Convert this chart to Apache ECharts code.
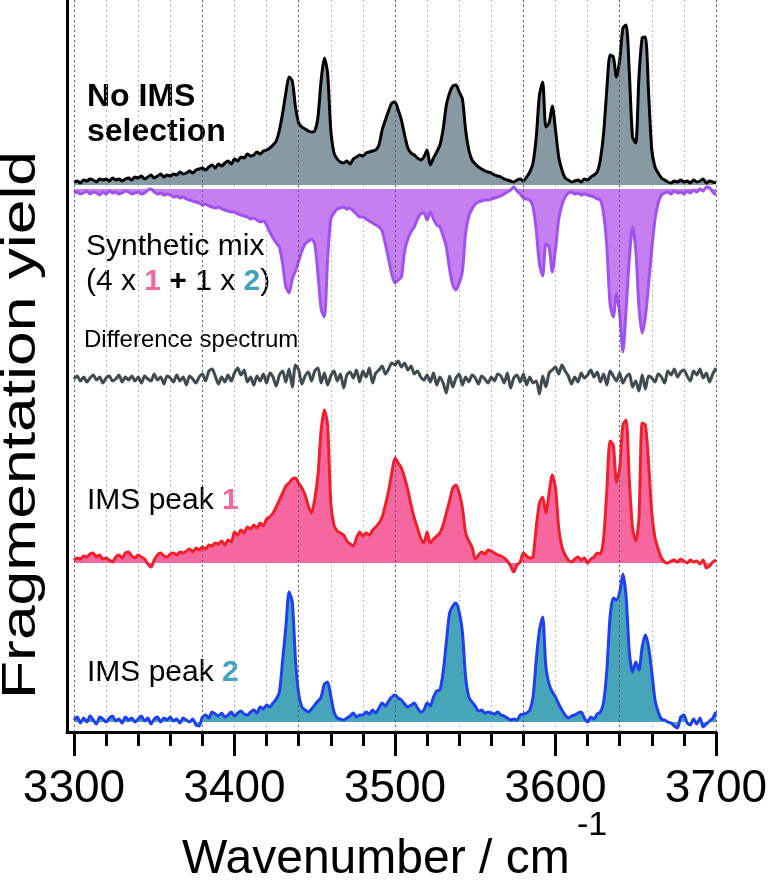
<!DOCTYPE html>
<html><head><meta charset="utf-8">
<script src="https://cdn.jsdelivr.net/npm/echarts@6.0.0/dist/echarts.min.js"></script>
<style>html,body{margin:0;padding:0;background:#fff}#c{width:768px;height:883px}</style>
</head><body><div id="c"></div>
<script>
// Wavenumber sampling: 3300, 3302, ... 3700 cm-1
const wnStart = 3300;
const wnStep = 2;
const xTickLabels = ['3300', '3400', '3500', '3600', '3700'];
const darkGrid = [3300, 3380, 3440, 3500, 3580, 3640, 3700];

// Spectra (arbitrary fragmentation-yield units, above each trace's own baseline)
const noIMS = [
3,4,2,5,4,6,5,3,6,5,
6,4,7,5,6,4,6,7,5,8,
7,9,6,8,10,7,9,11,8,10,
9,11,10,13,11,12,14,12,15,16,
17,15,18,20,17,21,19,22,24,21,
26,24,28,27,31,29,30,33,31,34,
35,37,40,44,55,72,92,108,104,78,
62,58,56,54,53,54,68,105,127,112,
55,32,26,23,22,24,21,26,28,30,
29,32,33,34,35,40,55,65,74,82,
83,75,65,50,37,32,30,27,25,28,
35,20,27,33,40,56,80,92,99,100,
93,86,55,35,25,21,18,16,14,13,
12,10,9,8,6,5,4,3,5,6,
4,8,13,22,48,90,103,58,62,79,
55,28,15,7,5,3,4,5,3,6,
5,8,10,13,26,52,96,130,128,108,
125,157,160,112,48,42,108,147,148,92,
35,18,12,7,5,3,2,4,3,5,
3,4,2,5,3,4,6,2,4,3,
2];
const synthMix = [
4,3,5,4,2,5,3,4,6,3,
5,2,4,3,5,4,2,3,5,4,
3,5,4,1,0,3,5,4,6,5,
6,8,7,9,8,10,11,12,13,14,
16,15,17,18,19,18,20,21,22,23,
23,25,26,27,28,30,29,31,33,32,
36,43,49,54,58,75,98,104,90,82,
72,62,55,52,50,55,85,120,128,70,
30,24,20,19,18,20,19,22,25,28,
28,30,32,34,36,38,42,55,70,85,
94,91,88,62,50,43,38,30,25,24,
31,23,30,36,38,47,58,80,96,101,
94,82,44,27,20,15,13,12,11,11,
10,9,8,7,5,3,1,-2,2,5,
9,10,11,18,41,75,87,55,58,83,
60,30,16,8,4,3,5,4,6,5,
6,7,8,10,11,25,58,115,128,105,
125,163,120,70,38,60,118,144,128,95,
60,30,14,6,4,3,5,2,4,3,
5,2,4,1,3,0,2,-2,-1,3,
6];
const diffSpec = [
0,3,-2,2,-3,1,4,-1,2,-4,
1,3,-2,0,4,-3,2,-1,3,-2,
2,-4,3,0,-2,5,-1,2,-5,3,
1,-3,4,-2,2,-6,3,0,-4,2,
5,-2,8,10,3,-5,2,-3,4,-2,
6,11,4,9,-3,2,-6,3,-2,5,
-4,6,2,-7,4,8,-3,10,-8,14,
9,-5,3,7,-2,8,11,-4,6,-6,
3,8,-2,5,-9,4,7,1,9,-3,
8,2,11,-4,6,9,13,5,10,16,
14,18,12,16,9,13,5,8,2,-1,
4,-3,6,-6,2,-4,-14,3,-8,1,
5,-6,2,-3,4,1,-5,3,0,-4,
2,-2,5,3,-4,6,-9,1,4,-3,
5,-6,2,-4,-2,-15,3,-8,6,9,
12,5,14,8,3,-5,2,-3,6,1,
4,9,2,7,-3,5,-6,8,3,-2,
6,-4,2,5,-8,-2,-12,4,-10,3,
1,-3,5,2,-4,8,4,10,2,7,
9,3,-2,8,4,10,1,6,-3,5,
11];
const imsPeak1 = [
3,5,4,7,6,9,10,6,8,4,
5,3,1,6,8,5,10,11,7,5,
8,6,4,-1,-4,3,8,10,7,6,
9,10,8,11,10,12,14,11,15,13,
16,14,18,17,20,19,22,18,23,21,
31,28,33,30,36,34,38,35,40,37,
44,46,50,56,63,70,77,80,84,85,
80,75,68,57,50,64,88,133,153,138,
60,38,32,30,28,22,19,17,25,31,
27,30,28,33,36,40,46,58,72,90,
105,100,95,85,73,58,45,35,25,20,
31,20,24,27,30,38,50,62,75,78,
70,55,30,22,16,4,8,11,9,13,
12,10,8,7,5,2,-3,-9,-2,1,
10,7,5,6,36,60,66,50,70,88,
75,35,16,8,3,1,4,6,3,5,
0,4,6,10,9,25,73,122,118,81,
95,138,143,83,35,22,45,140,138,100,
50,25,14,5,1,0,2,3,1,4,
2,0,3,1,2,-1,3,-5,-3,1,
3];
const imsPeak2 = [
2,5,-1,4,0,6,2,-2,5,3,
0,4,6,1,3,-1,5,2,4,0,
3,6,1,4,-2,3,5,0,4,2,
5,1,3,-1,4,2,0,3,-3,-4,
5,7,4,10,8,6,9,5,7,10,
6,9,11,8,7,10,12,9,15,13,
17,15,19,23,30,62,95,130,120,62,
28,15,12,10,13,17,21,25,38,40,
26,10,4,3,2,4,6,9,5,7,
7,10,8,12,9,14,19,16,21,25,
27,24,22,18,15,17,19,14,10,12,
19,16,25,31,32,50,80,109,116,119,
110,90,45,25,20,16,11,12,9,10,
9,8,10,7,6,4,2,3,2,7,
8,9,12,25,62,92,105,55,38,30,
25,18,12,7,4,6,7,9,10,4,
0,5,3,8,10,20,52,105,124,122,
130,148,125,70,50,60,52,75,87,75,
50,22,10,3,2,0,-1,-4,-6,5,
7,-1,-3,3,-2,4,-5,-2,1,4,
10];

const yTitle = 'Fragmentation yield';
const xTitle = 'Wavenumber / cm';
const xTitleSup = '-1';

const FONT = '"Liberation Sans", Arial, Helvetica, sans-serif';
function pairs(arr) { return arr.map((v, i) => [wnStart + i * wnStep, v]); }

const chart = echarts.init(document.getElementById('c'), null, {renderer: 'canvas'});
const dataY = (min, max, inverse) => ({type: 'value', gridIndex: 0, min: min, max: max, inverse: !!inverse, show: false});
const SMOOTH = 0.25;
const option = {
  animation: false,
  backgroundColor: '#fff',
  grid: [
    {left: 74, right: 52, top: 0, bottom: 151, containLabel: false, outerBoundsMode: 'none'},   // data
    {left: 67, right: 52, top: 0, bottom: 151, containLabel: false, outerBoundsMode: 'none'},   // frame
    {left: 74, right: 52, top: 0, bottom: 151, containLabel: false, outerBoundsMode: 'none'}    // ticks + labels
  ],
  xAxis: [
    {type: 'value', gridIndex: 0, min: 3300, max: 3700, interval: 100,
     axisLine: {show: false}, axisTick: {show: false}, axisLabel: {show: false},
     minorTick: {show: false, splitNumber: 5},
     splitLine: {show: true, lineStyle: {color: '#b8b8b8', width: 1, type: [2, 3]}},
     minorSplitLine: {show: true, lineStyle: {color: '#b8b8b8', width: 1, type: [2, 3]}}
    },
    {type: 'value', gridIndex: 1, min: 0, max: 1,
     axisLine: {show: true, onZero: false, lineStyle: {color: '#000', width: 3}},
     axisTick: {show: false}, axisLabel: {show: false}, splitLine: {show: false}},
    {type: 'value', gridIndex: 2, min: 3300, max: 3700, interval: 100,
     axisLine: {show: true, onZero: false, lineStyle: {color: '#000', width: 3}},
     axisTick: {show: true, length: 24, lineStyle: {color: '#000', width: 3}},
     minorTick: {show: true, splitNumber: 5, length: 14, lineStyle: {color: '#000', width: 3}},
     axisLabel: {fontSize: 46, color: '#000', fontFamily: FONT, margin: 34, hideOverlap: false,
                 formatter: (v) => xTickLabels.includes(String(v)) ? String(v) : ''},
     splitLine: {show: false}}
  ],
  yAxis: [
    dataY(-547, 185),        // no IMS, baseline
    dataY(-189, 543, true),  // synthetic mix, inverted
    dataY(-353, 379),        // difference
    dataY(-169, 563),        // IMS peak 1
    dataY(-10, 722),         // IMS peak 2
    {type: 'value', gridIndex: 1, min: 0, max: 1,
     axisLine: {show: true, onZero: false, lineStyle: {color: '#000', width: 3}},
     axisTick: {show: false}, axisLabel: {show: false}, splitLine: {show: false}},
    {type: 'value', gridIndex: 2, min: 0, max: 1, show: false}
  ],
  series: [
    {type: 'line', xAxisIndex: 0, yAxisIndex: 0, data: [], z: 1, silent: true,
     markLine: {silent: true, symbol: 'none', label: {show: false}, animation: false,
       lineStyle: {color: '#555', width: 1, type: [2, 3]},
       data: darkGrid.map(v => ({xAxis: v}))}},
    {type: 'line', name: 'No IMS selection', xAxisIndex: 0, yAxisIndex: 0, data: pairs(noIMS),
     symbol: 'none', smooth: SMOOTH, z: 3, lineStyle: {color: '#000', width: 3},
     areaStyle: {color: '#8799a2', opacity: 1, origin: 'auto'}},
    {type: 'line', name: 'Synthetic mix', xAxisIndex: 0, yAxisIndex: 1, data: pairs(synthMix),
     symbol: 'none', smooth: SMOOTH, z: 3, lineStyle: {color: '#a052f0', width: 3},
     areaStyle: {color: '#c57ff0', opacity: 1, origin: 'auto'}},
    {type: 'line', name: 'Difference spectrum', xAxisIndex: 0, yAxisIndex: 2, data: pairs(diffSpec),
     symbol: 'none', smooth: SMOOTH, z: 3, lineStyle: {color: '#404b51', width: 3}},
    {type: 'line', name: 'IMS peak 1', xAxisIndex: 0, yAxisIndex: 3, data: pairs(imsPeak1),
     symbol: 'none', smooth: SMOOTH, z: 3, lineStyle: {color: '#f0202a', width: 3},
     areaStyle: {color: '#f7679f', opacity: 1, origin: 'auto'}},
    {type: 'line', name: 'IMS peak 2', xAxisIndex: 0, yAxisIndex: 4, data: pairs(imsPeak2),
     symbol: 'none', smooth: SMOOTH, z: 3, lineStyle: {color: '#1f3ff0', width: 3},
     areaStyle: {color: '#47a5b9', opacity: 1, origin: 'auto'}}
  ],
  graphic: [
    {type: 'text', x: 87, y: 97, style: {text: 'No IMS', font: 'bold 32px ' + FONT, fill: '#000', align: 'left', verticalAlign: 'middle'}},
    {type: 'text', x: 87, y: 132, style: {text: 'selection', font: 'bold 32px ' + FONT, fill: '#000', align: 'left', verticalAlign: 'middle'}},
    {type: 'text', x: 86, y: 247, style: {text: 'Synthetic mix', font: '30px ' + FONT, fill: '#000', align: 'left', verticalAlign: 'middle'}},
    {type: 'text', x: 86, y: 282, style: {
      text: '{n|(4 x }{p|1}{b| + }{n|1 x }{t|2}{n|)}', align: 'left', verticalAlign: 'middle', font: '30px ' + FONT,
      rich: {
        n: {font: '30px ' + FONT, fill: '#000'},
        b: {font: 'bold 30px ' + FONT, fill: '#000'},
        p: {font: 'bold 30px ' + FONT, fill: '#ef6aa2'},
        t: {font: 'bold 30px ' + FONT, fill: '#40a3bb'}
      }}},
    {type: 'text', x: 84, y: 340, style: {text: 'Difference spectrum', font: '24px ' + FONT, fill: '#000', align: 'left', verticalAlign: 'middle'}},
    {type: 'text', x: 87, y: 501, style: {
      text: '{n|IMS peak }{p|1}', align: 'left', verticalAlign: 'middle', font: '30px ' + FONT,
      rich: {n: {font: '30px ' + FONT, fill: '#000'}, p: {font: 'bold 30px ' + FONT, fill: '#ef6aa2'}}}},
    {type: 'text', x: 87, y: 673, style: {
      text: '{n|IMS peak }{t|2}', align: 'left', verticalAlign: 'middle', font: '30px ' + FONT,
      rich: {n: {font: '30px ' + FONT, fill: '#000'}, t: {font: 'bold 30px ' + FONT, fill: '#40a3bb'}}}},
    {type: 'text', x: 22, y: 425, rotation: Math.PI / 2, scaleX: 1.3, style: {text: yTitle, font: '48px ' + FONT, fill: '#000', align: 'center', verticalAlign: 'middle'}},
    {type: 'text', x: 182, y: 860, style: {text: xTitle, font: '48px ' + FONT, fill: '#000', align: 'left', verticalAlign: 'middle'}},
    {type: 'text', x: 577, y: 826, style: {text: xTitleSup, font: '34px ' + FONT, fill: '#000', align: 'left', verticalAlign: 'middle'}}
  ]
};
chart.setOption(option);
</script>
</body></html>
